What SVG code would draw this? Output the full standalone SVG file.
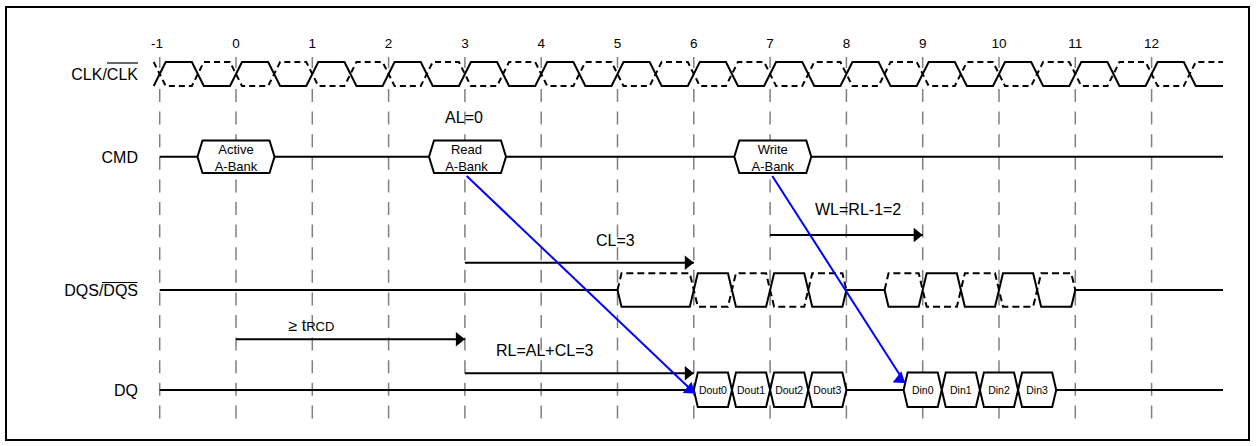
<svg xmlns="http://www.w3.org/2000/svg" width="1256" height="446" viewBox="0 0 1256 446">
<style>
.lbl{font-family:"Liberation Sans",Arial,sans-serif;font-size:16px;fill:#000}
.num{font-family:"Liberation Sans",Arial,sans-serif;font-size:13.5px;fill:#000;text-anchor:middle}
.box{font-family:"Liberation Sans",Arial,sans-serif;font-size:13px;fill:#000;text-anchor:middle}
.dat{font-family:"Liberation Sans",Arial,sans-serif;font-size:10.5px;fill:#000;text-anchor:middle}
.sig{fill:none;stroke:#000;stroke-width:2;stroke-linejoin:miter}
.dash{fill:none;stroke:#000;stroke-width:2;stroke-dasharray:6 4}
.hex{fill:#fff;stroke:#000;stroke-width:2}
.grid{stroke:#808080;stroke-width:1.5;stroke-dasharray:13 9.6}
.gtop{stroke:#808080;stroke-width:1.5}
.arr{stroke:#000;stroke-width:2;fill:none;marker-end:url(#ah)}
.blue{stroke:#0000ff;stroke-width:2;fill:none;marker-end:url(#bh)}
</style>
<defs>
<marker id="ah" markerUnits="userSpaceOnUse" markerWidth="12" markerHeight="16" refX="10" refY="8" orient="auto">
<path d="M10,8 L1,0.8 L1,15.2 Z" fill="#000"/>
</marker>
<marker id="bh" markerUnits="userSpaceOnUse" markerWidth="14" markerHeight="16" refX="11" refY="8" orient="37.5">
<path d="M11,8 L1,0.8 L1,15.2 Z" fill="#0000ff"/>
</marker>
</defs>
<rect x="6" y="7" width="1243" height="433" fill="none" stroke="#000" stroke-width="2"/>

<g id="grid">
<line class="gtop" x1="159.7" y1="57" x2="159.7" y2="68"/><line class="grid" x1="159.7" y1="89" x2="159.7" y2="424"/>
<line class="gtop" x1="236" y1="57" x2="236" y2="68"/><line class="grid" x1="236" y1="89" x2="236" y2="424"/>
<line class="gtop" x1="312.3" y1="57" x2="312.3" y2="68"/><line class="grid" x1="312.3" y1="89" x2="312.3" y2="424"/>
<line class="gtop" x1="388.6" y1="57" x2="388.6" y2="68"/><line class="grid" x1="388.6" y1="89" x2="388.6" y2="424"/>
<line class="gtop" x1="464.9" y1="57" x2="464.9" y2="68"/><line class="grid" x1="464.9" y1="89" x2="464.9" y2="424"/>
<line class="gtop" x1="541.2" y1="57" x2="541.2" y2="68"/><line class="grid" x1="541.2" y1="89" x2="541.2" y2="424"/>
<line class="gtop" x1="617.5" y1="57" x2="617.5" y2="68"/><line class="grid" x1="617.5" y1="89" x2="617.5" y2="424"/>
<line class="gtop" x1="693.8" y1="57" x2="693.8" y2="68"/><line class="grid" x1="693.8" y1="89" x2="693.8" y2="424"/>
<line class="gtop" x1="770.1" y1="57" x2="770.1" y2="68"/><line class="grid" x1="770.1" y1="89" x2="770.1" y2="424"/>
<line class="gtop" x1="846.4" y1="57" x2="846.4" y2="68"/><line class="grid" x1="846.4" y1="89" x2="846.4" y2="424"/>
<line class="gtop" x1="922.7" y1="57" x2="922.7" y2="68"/><line class="grid" x1="922.7" y1="89" x2="922.7" y2="424"/>
<line class="gtop" x1="999" y1="57" x2="999" y2="68"/><line class="grid" x1="999" y1="89" x2="999" y2="424"/>
<line class="gtop" x1="1075.3" y1="57" x2="1075.3" y2="68"/><line class="grid" x1="1075.3" y1="89" x2="1075.3" y2="424"/>
<line class="gtop" x1="1151.6" y1="57" x2="1151.6" y2="68"/><line class="grid" x1="1151.6" y1="89" x2="1151.6" y2="424"/>
</g>

<g id="ticks">
<text class="num" x="157" y="48">-1</text>
<text class="num" x="236" y="48">0</text>
<text class="num" x="312.3" y="48">1</text>
<text class="num" x="388.6" y="48">2</text>
<text class="num" x="464.9" y="48">3</text>
<text class="num" x="541.2" y="48">4</text>
<text class="num" x="617.5" y="48">5</text>
<text class="num" x="693.8" y="48">6</text>
<text class="num" x="770.1" y="48">7</text>
<text class="num" x="846.4" y="48">8</text>
<text class="num" x="922.7" y="48">9</text>
<text class="num" x="999" y="48">10</text>
<text class="num" x="1075.3" y="48">11</text>
<text class="num" x="1151.6" y="48">12</text>
</g>

<g id="labels">
<text class="lbl" x="138" y="80" text-anchor="end">CLK/CLK</text>
<line x1="107" y1="63" x2="138" y2="63" stroke="#000" stroke-width="1.2"/>
<text class="lbl" x="138" y="162.5" text-anchor="end">CMD</text>
<text class="lbl" x="138" y="296" text-anchor="end">DQS/DQS</text>
<line x1="102" y1="282.5" x2="137.5" y2="282.5" stroke="#000" stroke-width="1.2"/>
<text class="lbl" x="138" y="396" text-anchor="end">DQ</text>
</g>

<g id="clk">
<path class="sig" d="M153.7,86 L165.7,62 L191.85,62 L203.85,86 L230,86 L242,62 L268.15,62 L280.15,86 L306.3,86 L318.3,62 L344.45,62 L356.45,86 L382.6,86 L394.6,62 L420.75,62 L432.75,86 L458.9,86 L470.9,62 L497.05,62 L509.05,86 L535.2,86 L547.2,62 L573.35,62 L585.35,86 L611.5,86 L623.5,62 L649.65,62 L661.65,86 L687.8,86 L699.8,62 L725.95,62 L737.95,86 L764.1,86 L776.1,62 L802.25,62 L814.25,86 L840.4,86 L852.4,62 L878.55,62 L890.55,86 L916.7,86 L928.7,62 L954.85,62 L966.85,86 L993,86 L1005,62 L1031.15,62 L1043.15,86 L1069.3,86 L1081.3,62 L1107.45,62 L1119.45,86 L1145.6,86 L1157.6,62 L1183.75,62 L1195.75,86 L1223,86"/>
<path class="dash" d="M153.7,62 L165.7,86 L191.85,86 L203.85,62 L230,62 L242,86 L268.15,86 L280.15,62 L306.3,62 L318.3,86 L344.45,86 L356.45,62 L382.6,62 L394.6,86 L420.75,86 L432.75,62 L458.9,62 L470.9,86 L497.05,86 L509.05,62 L535.2,62 L547.2,86 L573.35,86 L585.35,62 L611.5,62 L623.5,86 L649.65,86 L661.65,62 L687.8,62 L699.8,86 L725.95,86 L737.95,62 L764.1,62 L776.1,86 L802.25,86 L814.25,62 L840.4,62 L852.4,86 L878.55,86 L890.55,62 L916.7,62 L928.7,86 L954.85,86 L966.85,62 L993,62 L1005,86 L1031.15,86 L1043.15,62 L1069.3,62 L1081.3,86 L1107.45,86 L1119.45,62 L1145.6,62 L1157.6,86 L1183.75,86 L1195.75,62 L1223,62"/>
</g>

<g id="cmd">
<line class="sig" x1="159.7" y1="156.7" x2="1223" y2="156.7"/>
</g>
<g id="active">
<polygon class="hex" points="197.5,156.7 202.5,140.5 269.5,140.5 274.5,156.7 269.5,173 202.5,173"/>
<text class="box" x="236" y="154">Active</text>
<text class="box" x="236" y="170.5">A-Bank</text>
</g>
<g id="read">
<polygon class="hex" points="429,156.7 434,140.5 501,140.5 506,156.7 501,173 434,173"/>
<text class="box" x="466.5" y="154">Read</text>
<text class="box" x="466.5" y="170.5">A-Bank</text>
</g>
<g id="write">
<polygon class="hex" points="734.3,156.7 739.3,140.5 806.3,140.5 811.3,156.7 806.3,173 739.3,173"/>
<text class="box" x="772.8" y="154">Write</text>
<text class="box" x="772.8" y="170.5">A-Bank</text>
</g>
<g id="al">
<text class="lbl" x="464" y="123" text-anchor="middle">AL=0</text>
</g>

<g id="dqs">
<path class="sig" d="M159.7,290 L617.5,290 L621.5,306.7 L689.8,306.7 L697.8,273.3 L727.95,273.3 L735.95,306.7 L766.1,306.7 L774.1,273.3 L804.25,273.3 L812.25,306.7 L842.4,306.7 L846.4,290 L884.55,290 L888.55,306.7 L918.7,306.7 L926.7,273.3 L956.85,273.3 L964.85,306.7 L995,306.7 L1003,273.3 L1033.15,273.3 L1041.15,306.7 L1071.3,306.7 L1075.3,290 L1223,290"/>
<path class="dash" style="stroke-dasharray:7 4" d="M617.5,290 L621.5,273.3 L689.8,273.3 L697.8,306.7 L727.95,306.7 L735.95,273.3 L766.1,273.3 L774.1,306.7 L804.25,306.7 L812.25,273.3 L842.4,273.3 L846.4,290"/>
<path class="dash" style="stroke-dasharray:7 4" d="M884.55,290 L888.55,273.3 L918.7,273.3 L926.7,306.7 L956.85,306.7 L964.85,273.3 L995,273.3 L1003,306.7 L1033.15,306.7 L1041.15,273.3 L1071.3,273.3 L1075.3,290"/>
</g>

<g id="dq">
<line class="sig" x1="159.7" y1="390" x2="693.8" y2="390"/>
<line class="sig" x1="846.4" y1="390" x2="903.6" y2="390"/>
<line class="sig" x1="1056.2" y1="390" x2="1223" y2="390"/>
</g>
<g id="dout0"><polygon class="hex" points="693.8,390 697.8,372.5 727.95,372.5 731.95,390 727.95,407 697.8,407"/><text class="dat" x="712.9" y="394">Dout0</text></g>
<g id="dout1"><polygon class="hex" points="731.95,390 735.95,372.5 766.1,372.5 770.1,390 766.1,407 735.95,407"/><text class="dat" x="751" y="394">Dout1</text></g>
<g id="dout2"><polygon class="hex" points="770.1,390 774.1,372.5 804.25,372.5 808.25,390 804.25,407 774.1,407"/><text class="dat" x="789.2" y="394">Dout2</text></g>
<g id="dout3"><polygon class="hex" points="808.25,390 812.25,372.5 842.4,372.5 846.4,390 842.4,407 812.25,407"/><text class="dat" x="827.3" y="394">Dout3</text></g>
<g id="din0"><polygon class="hex" points="903.6,390 907.6,372.5 937.75,372.5 941.75,390 937.75,407 907.6,407"/><text class="dat" x="922.7" y="394">Din0</text></g>
<g id="din1"><polygon class="hex" points="941.75,390 945.75,372.5 975.9,372.5 979.9,390 975.9,407 945.75,407"/><text class="dat" x="960.8" y="394">Din1</text></g>
<g id="din2"><polygon class="hex" points="979.9,390 983.9,372.5 1014.05,372.5 1018.05,390 1014.05,407 983.9,407"/><text class="dat" x="999" y="394">Din2</text></g>
<g id="din3"><polygon class="hex" points="1018.05,390 1022.05,372.5 1052.2,372.5 1056.2,390 1052.2,407 1022.05,407"/><text class="dat" x="1037.1" y="394">Din3</text></g>

<g id="connectors">
<line class="arr" x1="236" y1="339.3" x2="464.9" y2="339.3"/>
<line class="arr" x1="464.9" y1="262.7" x2="693.8" y2="262.7"/>
<line class="arr" x1="770.1" y1="235" x2="922.7" y2="235"/>
<line class="arr" x1="464.9" y1="373.3" x2="693.8" y2="373.3"/>
<line class="blue" x1="466.7" y1="176" x2="695" y2="393.5"/>
<line class="blue" x1="772.3" y1="176" x2="905" y2="383"/>
</g>

<g id="timing-labels">
<text class="lbl" x="288.5" y="331">≥ t<tspan style="font-size:13px">RCD</tspan></text>
<text class="lbl" x="596" y="246">CL=3</text>
<text class="lbl" x="815" y="214.5">WL=RL-1=2</text>
<text class="lbl" x="496" y="356">RL=AL+CL=3</text>
</g>
</svg>
